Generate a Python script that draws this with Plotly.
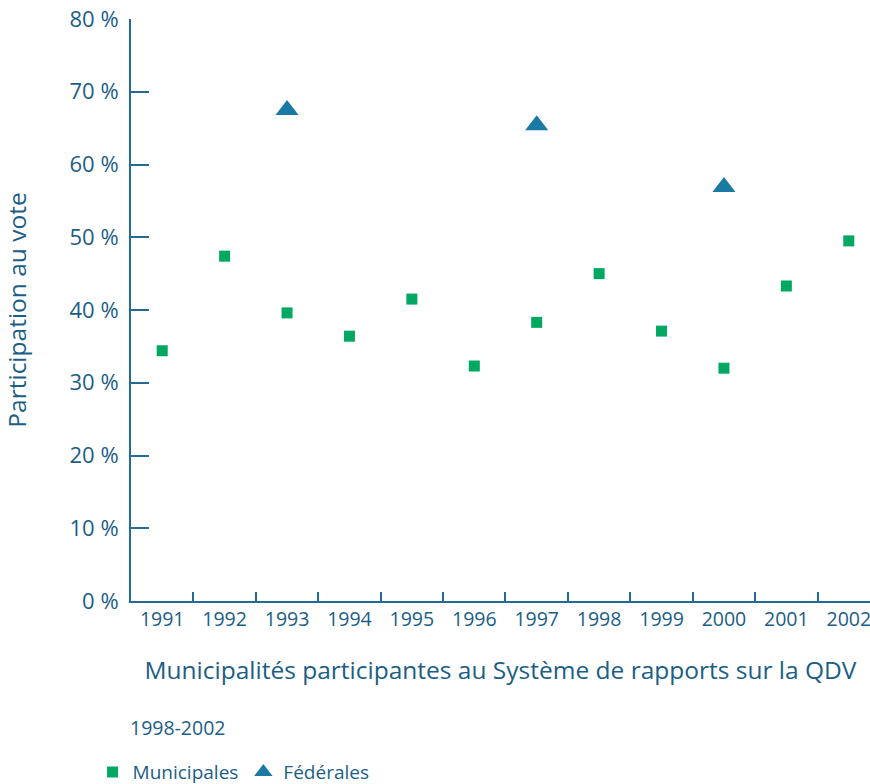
import plotly.graph_objects as go

years = ["1991", "1992", "1993", "1994", "1995", "1996", "1997", "1998", "1999", "2000", "2001", "2002"]
municipales = [34.4, 47.4, 39.6, 36.4, 41.5, 32.3, 38.3, 45.0, 37.1, 32.0, 43.3, 49.5]
fed_years = ["1993", "1997", "2000"]
federales = [67.5, 65.4, 56.9]
y_ticks = [0, 10, 20, 30, 40, 50, 60, 70, 80]

TXT = "#1b5e86"
AX = "#236b93"
GREEN = "#00a862"
BLUE = "#1a7aa4"
FONT = "Open Sans"

fig = go.Figure()
fig.add_trace(go.Scatter(x=years, y=municipales, mode="markers", name="Municipales",
                         marker=dict(symbol="square", size=11, color=GREEN)))
fig.add_trace(go.Scatter(x=fed_years, y=federales, mode="markers", name="Fédérales",
                         marker=dict(symbol="triangle-up", size=20, color=BLUE)))

fig.update_layout(
    width=870, height=784,
    margin=dict(l=131, r=0, t=19, b=183),
    paper_bgcolor="white", plot_bgcolor="white",
    font=dict(family=FONT, color=TXT, size=19),
    showlegend=True,
    legend=dict(orientation="h", x=-0.052, xanchor="left",
                yref="container", y=0.0395, yanchor="top",
                font=dict(size=19, color=TXT), itemsizing="trace", tracegroupgap=0),
    annotations=[dict(text="1998-2002", xref="paper", yref="paper", x=-0.004, y=-0.218,
                      xanchor="left", yanchor="middle", showarrow=False,
                      font=dict(size=19.5, color=TXT))],
)
fig.update_xaxes(
    type="category", categoryorder="array", categoryarray=years,
    range=[-0.5, 11.34], showline=True, linecolor=AX, linewidth=2,
    ticks="inside", ticklen=9, tickcolor=AX, tickwidth=2, tickson="boundaries",
    showgrid=False, zeroline=False, tickfont=dict(size=19.5, color=TXT),
    automargin=False, ticklabeloverflow="allow",
    title=dict(text="Municipalités participantes au Système de rapports sur la QDV",
               font=dict(size=24.5, color=TXT), standoff=30),
)
fig.update_yaxes(
    range=[0, 80], tickvals=y_ticks, ticktext=[f"{v} %" for v in y_ticks],
    showline=True, linecolor=AX, linewidth=2,
    ticks="inside", ticklen=18, tickcolor=AX, tickwidth=2,
    showgrid=False, zeroline=False, tickfont=dict(size=22, color=TXT),
    ticklabelstandoff=6, automargin=False, ticklabeloverflow="allow",
    title=dict(text="Participation au vote", font=dict(size=24.5, color=TXT), standoff=45),
)

fig.write_html("out.html", config={"displayModeBar": False},
               post_script="document.body.style.margin='0';")
